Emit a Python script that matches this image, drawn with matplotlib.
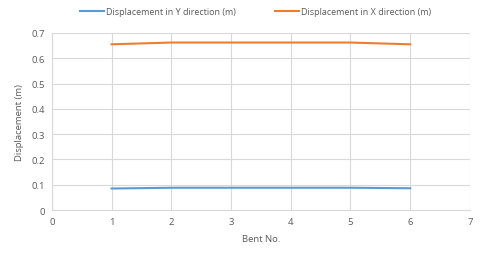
import matplotlib
matplotlib.use('Agg')
import matplotlib.pyplot as plt

bents = [1, 2, 3, 4, 5, 6]
disp_y = [0.085, 0.088, 0.088, 0.088, 0.088, 0.086]
disp_x = [0.655, 0.662, 0.662, 0.662, 0.662, 0.655]
x_ticks = [0, 1, 2, 3, 4, 5, 6, 7]
y_ticks = [0, 0.1, 0.2, 0.3, 0.4, 0.5, 0.6, 0.7]
y_labels = ['0', '0.1', '0.2', '0.3', '0.4', '0.5', '0.6', '0.7']

plt.rcParams['font.family'] = ['Open Sans', 'DejaVu Sans']
txt = '#595959'
grid = '#d9d9d9'

fig = plt.figure(figsize=(4.8, 2.55), dpi=100)
ax = fig.add_axes([0.108, 0.1725, 0.871, 0.6945])

ax.plot(bents, disp_y, color='#5B9BD5', lw=1.5, label='Displacement in Y direction (m)')
ax.plot(bents, disp_x, color='#ED7D31', lw=1.5, label='Displacement in X direction (m)')

ax.set_xlim(0, 7)
ax.set_ylim(0, 0.7)
ax.set_xticks(x_ticks)
ax.set_yticks(y_ticks)
ax.set_yticklabels(y_labels)
ax.grid(True, color=grid, lw=0.8)
ax.set_axisbelow(True)
for s in ['top', 'right']:
    ax.spines[s].set_visible(False)
for s in ['left', 'bottom']:
    ax.spines[s].set_color(grid)
    ax.spines[s].set_linewidth(0.8)
ax.tick_params(length=0, labelsize=6.8, colors=txt, pad=5)

ax.set_xlabel('Bent No.', fontsize=6.8, color=txt, labelpad=6)
ax.set_ylabel('Displacement (m)', fontsize=6.8, color=txt, labelpad=5)

fig.legend(loc='center', bbox_to_anchor=(0.533, 0.95), ncol=2, frameon=False,
           fontsize=6.5, labelcolor=txt, handlelength=2.6, columnspacing=4.3,
           handletextpad=0.3)

fig.savefig('out.png', dpi=100)
